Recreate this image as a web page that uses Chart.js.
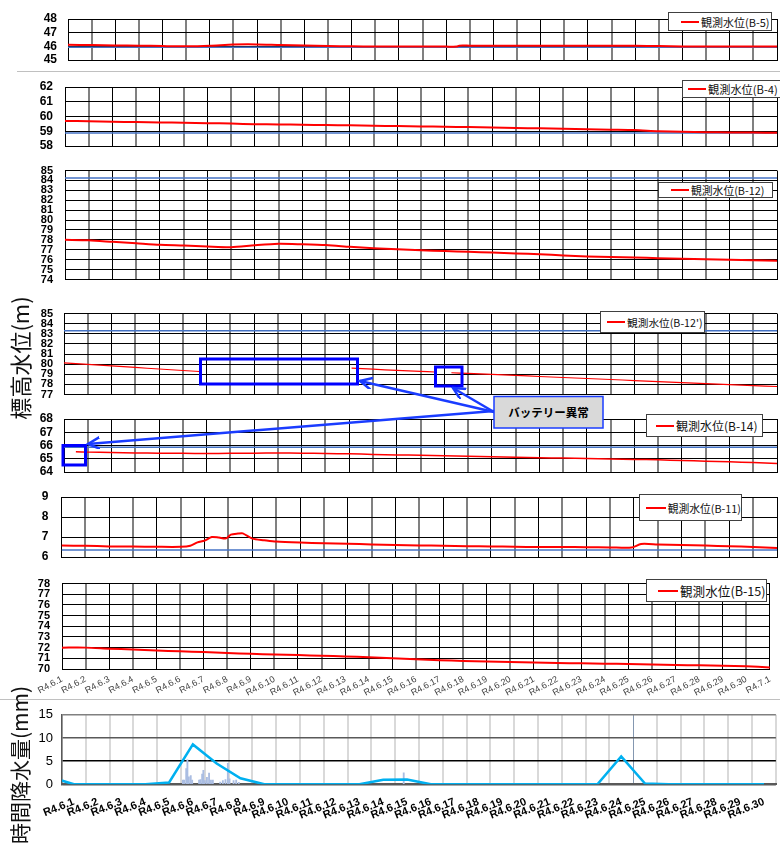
<!DOCTYPE html>
<html>
<head>
<meta charset="utf-8">
<script src="https://cdn.jsdelivr.net/npm/chart.js@4.4.1/dist/chart.umd.min.js"></script>
<style>
    body { margin: 0; width: 780px; height: 844px; position: relative; overflow: hidden; background: #fff; font-family: "Liberation Sans", Arial, sans-serif; }
    canvas { position: absolute; left: 0; }
    .legend { position: absolute; box-sizing: border-box; background: #fff; border: 1px solid #404040; display: flex; align-items: center; white-space: nowrap; font-family: "Noto Sans CJK JP", sans-serif; color: #111; }
    .legend i { display: inline-block; height: 2px; background: #ff0000; margin-right: 2px; }
    .ytitle { position: absolute; transform: translate(-50%, -50%) rotate(-90deg); white-space: nowrap; font-family: "Noto Sans CJK JP", sans-serif; color: #111; }
    .sep { position: absolute; height: 1px; background: #c0c0c0; }
</style>
</head>
<body>
<div class="sep" style="left:17px;top:71px;width:763px"></div>
<div class="sep" style="left:0;top:699px;width:780px"></div>

<script>
const dayLabels = ['R4.6.1', 'R4.6.2', 'R4.6.3', 'R4.6.4', 'R4.6.5', 'R4.6.6', 'R4.6.7', 'R4.6.8', 'R4.6.9', 'R4.6.10',
    'R4.6.11', 'R4.6.12', 'R4.6.13', 'R4.6.14', 'R4.6.15', 'R4.6.16', 'R4.6.17', 'R4.6.18', 'R4.6.19', 'R4.6.20',
    'R4.6.21', 'R4.6.22', 'R4.6.23', 'R4.6.24', 'R4.6.25', 'R4.6.26', 'R4.6.27', 'R4.6.28', 'R4.6.29', 'R4.6.30', 'R4.7.1'];
const rainLabels = dayLabels.slice(0, 30);

const days = [0, 1, 2, 3, 4, 5, 6, 7, 8, 9, 10, 11, 12, 13, 14, 15, 16, 17, 18, 19, 20, 21, 22, 23, 24, 25, 26, 27, 28, 29, 30];

const b5Days = [0, 1, 2, 3, 4, 5, 6, 7, 8, 9, 10, 11, 12, 13, 14, 15, 16, 16.45, 16.55, 17, 18, 19, 20, 21, 22, 23, 24, 25, 26, 27, 28, 29, 30];
const b5Level = [46.11, 46.09, 46.07, 46.05, 46.02, 46.00, 46.04, 46.13, 46.14, 46.09, 46.06, 46.03, 46.00, 45.99, 45.98, 45.98, 45.98,
    45.98, 46.05, 46.05, 46.05, 46.05, 46.05, 46.05, 46.05, 46.05, 46.04, 46.02, 45.99, 45.98, 45.98, 45.98, 45.98];

const b4Level = [59.70, 59.68, 59.65, 59.62, 59.60, 59.57, 59.55, 59.52, 59.48, 59.46, 59.44, 59.42, 59.40, 59.37, 59.35, 59.33,
    59.30, 59.28, 59.25, 59.22, 59.20, 59.17, 59.14, 59.11, 59.08, 59.00, 58.96, 58.94, 58.92, 58.91, 58.90];

const b12Level = [78.00, 77.95, 77.80, 77.65, 77.50, 77.42, 77.32, 77.25, 77.45, 77.60, 77.55, 77.47, 77.30, 77.15, 77.05, 76.95,
    76.87, 76.80, 76.72, 76.63, 76.55, 76.42, 76.33, 76.27, 76.22, 76.15, 76.10, 76.05, 76.00, 75.95, 75.90];

// B-12' has two gaps (battery trouble)
const b12pDays = [0, 1, 2, 3, 4, 5, 5.7, 6, 12.1, 13, 14, 15, 15.6, 15.9, 16.3, 17, 18, 19, 20, 21, 22, 23, 24, 25, 26, 27, 28, 29, 30];
const b12pLevel = [80.12, 79.97, 79.82, 79.67, 79.52, 79.37, 79.27, null, 79.60, 79.50, 79.38, 79.28, 79.22, null, 79.15,
    79.08, 78.98, 78.88, 78.78, 78.68, 78.58, 78.48, 78.38, 78.28, 78.18, 78.08, 77.98, 77.88, 77.79];

const b14Days = [0.5, 1, 2, 3, 4, 5, 6, 7, 8, 9, 10, 11, 12, 13, 14, 15, 16, 17, 18, 19, 20, 21, 22, 23, 24, 25, 26, 27, 28, 29, 30];
const b14Level = [65.53, 65.50, 65.47, 65.44, 65.42, 65.41, 65.40, 65.41, 65.42, 65.43, 65.42, 65.40, 65.37, 65.33, 65.29, 65.26,
    65.22, 65.18, 65.15, 65.12, 65.08, 65.05, 65.02, 64.98, 64.95, 64.92, 64.87, 64.82, 64.77, 64.71, 64.65];

const b11Days = [0, 1, 2, 3, 4, 5, 5.4, 5.7, 6, 6.3, 6.6, 6.9, 7.1, 7.4, 7.6, 8, 8.5, 9, 10, 11, 12, 13, 14, 15, 16, 17, 18, 19,
    20, 21, 22, 23, 23.9, 24.3, 25, 26, 27, 28, 29, 30];
const b11Level = [66.57, 66.56, 66.53, 66.52, 66.51, 66.51, 66.56, 66.73, 66.82, 67.00, 66.97, 66.93, 67.12, 67.17, 67.18, 66.92,
    66.84, 66.77, 66.72, 66.69, 66.66, 66.63, 66.60, 66.58, 66.56, 66.54, 66.53, 66.51, 66.50, 66.50, 66.49, 66.48, 66.47,
    66.65, 66.63, 66.60, 66.57, 66.54, 66.50, 66.45];

const b15Level = [72.00, 72.00, 71.90, 71.82, 71.72, 71.65, 71.58, 71.50, 71.42, 71.35, 71.30, 71.24, 71.18, 71.10, 71.00, 70.92,
    70.83, 70.76, 70.70, 70.65, 70.61, 70.57, 70.53, 70.50, 70.47, 70.43, 70.38, 70.34, 70.30, 70.25, 70.15];

// blue reference level of each well (none shown for B-15)
const refLevels = [45.93, 58.88, 84.25, 83.30, 65.87, 66.35, null];

// daily rain, first value is R4.5.31
const rainDays = [-1, 0, 1, 2, 3, 4, 5, 6, 7, 8, 9, 10, 11, 12, 13, 14, 15, 16, 17, 18, 19, 20, 21, 22, 23, 24, 25, 26, 27, 28, 29];
const rainDaily = [1.6, 0, 0, 0, 0, 0.4, 8.6, 4.5, 1.3, 0, 0, 0, 0, 0, 1.0, 1.05, 0, 0, 0, 0, 0, 0, 0, 0, 6.0, 0.15, 0, 0, 0, 0, 0];
const hourX = [4.58, 4.63, 4.72, 4.77, 4.83, 4.91, 4.97, 5.26, 5.32, 5.39, 5.44, 5.5, 5.59, 5.68, 5.76, 5.84, 6.15, 6.26, 6.37,
    6.47, 6.54, 6.71, 6.82, 6.93, 13.86];
const hourRain = [0.9, 0.9, 3.4, 5.3, 1.6, 1.9, 0.9, 0.9, 1.0, 2.2, 3.0, 0.8, 1.5, 2.4, 0.9, 0.9, 0.5, 0.8, 1.0, 4.5, 1.2, 0.8, 0.9,
    0.4, 2.5];

const panels = [
    { label: '観測水位(B-5)', x: b5Days, y: b5Level, min: 45, max: 48, box: [68, 12, 777, 67], font: 12, tickPad: 11, lw: 2,
      legend: [668, 12, 104, 19, 11, 12, 18] },
    { label: '観測水位(B-4)', x: days, y: b4Level, min: 58, max: 62, box: [65, 78.5, 777, 153.3], font: 12, tickPad: 12, lw: 2,
      legend: [682, 80, 100, 18, 11.2, 5, 18] },
    { label: '観測水位(B-12)', x: days, y: b12Level, min: 74, max: 85, box: [65, 163.3, 777, 287.3], font: 11, tickPad: 12, lw: 2,
      legend: [658, 182, 115, 16, 10.8, 12, 18] },
    { label: '観測水位(B-12\')', x: b12pDays, y: b12pLevel, min: 77, max: 85, box: [64, 306.5, 777, 400], font: 11, tickPad: 11, lw: 1.2,
      legend: [600, 311, 105, 22, 10.7, 6, 18] },
    { label: '観測水位(B-14)', x: b14Days, y: b14Level, min: 64, max: 68, box: [64, 411.7, 777, 479], font: 12, tickPad: 11, lw: 1.5,
      legend: [646, 414, 117, 23, 12, 9, 18] },
    { label: '観測水位(B-11)', x: b11Days, y: b11Level, min: 66, max: 69, box: [61.5, 488.3, 777, 566.7], font: 12, tickPad: 13, lw: 2,
      legend: [639, 494, 103, 27, 10.8, 6, 20], lastDigit: true },
    { label: '観測水位(B-15)', x: days, y: b15Level, min: 70, max: 78, box: [62, 575.7, 777, 668.3], font: 11, tickPad: 12, lw: 2,
      legend: [646, 579, 121, 23, 12.6, 11, 20] }
];

function addLegend(p) {
    const [left, top, w, h, size, padLeft, lineW] = p.legend;
    const div = document.createElement('div');
    div.className = 'legend';
    div.style.cssText = `left:${left}px;top:${top}px;width:${w}px;height:${h}px;font-size:${size}px;padding-left:${padLeft}px`;
    const line = document.createElement('i');
    line.style.width = lineW + 'px';
    div.appendChild(line);
    div.appendChild(document.createTextNode(p.label));
    document.body.appendChild(div);
}

function renderPanel(p, i) {
    const last = i === panels.length - 1;
    const pad = 10;
    const labelH = last ? 30 : 0;
    const [left, top, right, bottom] = p.box;
    const canvas = document.createElement('canvas');
    const h = Math.round(bottom - top + pad + (last ? labelH : pad));
    canvas.width = 780;
    canvas.height = h;
    canvas.style.top = (top - pad) + 'px';
    document.body.appendChild(canvas);

    const datasets = [{
        label: p.label,
        data: p.x.map((d, k) => ({ x: d, y: p.y[k] })),
        borderColor: '#ff0000',
        borderWidth: p.lw,
        pointRadius: 0,
        tension: 0.25
    }];
    if (refLevels[i] !== null) {
        datasets.push({
            data: [{ x: 0, y: refLevels[i] }, { x: 30, y: refLevels[i] }],
            borderColor: '#4472c4',
            borderWidth: 1.5,
            pointRadius: 0
        });
    }

    new Chart(canvas, {
        type: 'line',
        data: { datasets },
        options: {
            responsive: false,
            animation: false,
            layout: { padding: { top: pad, bottom: last ? 0 : pad, left: 0, right: 780 - right } },
            plugins: { legend: { display: false }, tooltip: { enabled: false } },
            scales: {
                x: {
                    type: 'linear', min: 0, max: 30,
                    afterFit: s => { s.height = labelH; },
                    border: { color: '#000', width: 1 },
                    grid: {
                        drawTicks: false,
                        color: c => c.index % 2 ? '#808080' : '#000',
                        lineWidth: c => c.index % 2 ? 2 : 1
                    },
                    ticks: {
                        display: last, stepSize: 1, autoSkip: false,
                        minRotation: 28, maxRotation: 28, padding: 5,
                        color: '#404040', font: { size: 9 },
                        callback: v => dayLabels[v]
                    }
                },
                y: {
                    min: p.min, max: p.max,
                    afterFit: s => { s.width = left; },
                    border: { color: '#000', width: 1 },
                    grid: { drawTicks: false, color: '#000', lineWidth: 1 },
                    ticks: {
                        stepSize: 1, autoSkip: false, padding: p.tickPad, color: '#000',
                        font: { size: p.font, weight: 'bold', lineHeight: 1 },
                        callback: v => p.lastDigit ? String(v).slice(-1) : v
                    }
                }
            }
        }
    });
    addLegend(p);
}

function renderRain() {
    const canvas = document.createElement('canvas');
    canvas.width = 780;
    canvas.height = 146;
    canvas.style.top = '698px';
    document.body.appendChild(canvas);
    const yColors = { 0: '#595959', 5: '#000', 10: '#595959', 15: '#808080' };

    new Chart(canvas, {
        type: 'line',
        data: {
            labels: rainLabels,
            datasets: [{
                data: rainDays.map((d, k) => ({ x: d, y: rainDaily[k] })),
                xAxisID: 'xh',
                borderColor: '#00b0f0',
                borderWidth: 2.5,
                pointRadius: 0,
                tension: 0
            }, {
                type: 'bar',
                data: hourX.map((d, k) => ({ x: d, y: hourRain[k] })),
                xAxisID: 'xh',
                backgroundColor: '#aabde2',
                barThickness: 1.2
            }]
        },
        options: {
            responsive: false,
            animation: false,
            layout: { padding: { top: 10.3, bottom: 0, left: 0, right: 4 } },
            plugins: { legend: { display: false }, tooltip: { enabled: false } },
            scales: {
                x: {
                    type: 'category', offset: true,
                    afterFit: s => { s.height = 59.7; },
                    border: { color: '#595959', width: 2 },
                    grid: {
                        offset: true, drawTicks: false,
                        color: c => c.index === 24 ? '#8497b0' : '#d9d9d9',
                        lineWidth: c => c.index === 24 ? 1 : 2
                    },
                    ticks: {
                        autoSkip: false, minRotation: 22, maxRotation: 22, padding: 11,
                        color: '#000', font: { size: 11, weight: 'bold' }
                    }
                },
                xh: { type: 'linear', min: -0.5, max: 29.5, offset: false, display: false },
                y: {
                    min: 0, max: 15,
                    afterFit: s => { s.width = 62; },
                    border: { color: '#595959', width: 1.5 },
                    grid: { drawTicks: false, color: c => yColors[c.tick.value], lineWidth: 1.5 },
                    ticks: { stepSize: 5, padding: 9, color: '#000', font: { size: 13 } }
                }
            }
        }
    });
}

panels.forEach(renderPanel);
renderRain();
</script>

<svg width="780" height="844" style="position:absolute;left:0;top:0">
    <defs>
        <marker id="ah" markerWidth="14" markerHeight="14" refX="12" refY="6" orient="auto" markerUnits="userSpaceOnUse">
            <path d="M0,0 L12,6 L0,12" fill="none" stroke="#1a3cff" stroke-width="2.5"/>
        </marker>
    </defs>
    <rect x="200.5" y="359" width="157" height="25" fill="none" stroke="#0000ff" stroke-width="3"/>
    <rect x="435.5" y="367" width="26.5" height="19" fill="none" stroke="#0000ff" stroke-width="3"/>
    <rect x="63" y="445.5" width="22.5" height="19.5" fill="none" stroke="#0000ff" stroke-width="3"/>
    <line x1="494" y1="412" x2="360" y2="381" stroke="#1a3cff" stroke-width="2.5" marker-end="url(#ah)"/>
    <line x1="494" y1="412" x2="453" y2="388" stroke="#1a3cff" stroke-width="2.5" marker-end="url(#ah)"/>
    <line x1="494" y1="411" x2="88" y2="444" stroke="#1a3cff" stroke-width="2.5" marker-end="url(#ah)"/>
    <rect x="494" y="396.5" width="109" height="31.5" fill="#d9d9d9" stroke="#1a3cff" stroke-width="1.5"/>
    <text x="548.5" y="417" text-anchor="middle" font-family="Noto Sans CJK JP" font-weight="bold" font-size="11.5" fill="#000">バッテリー異常</text>
</svg>

<div class="ytitle" style="left:19px;top:358px;font-size:22px">標高水位(m)</div>
<div class="ytitle" style="left:19px;top:765px;font-size:21px">時間降水量(mm)</div>
</body>
</html>
